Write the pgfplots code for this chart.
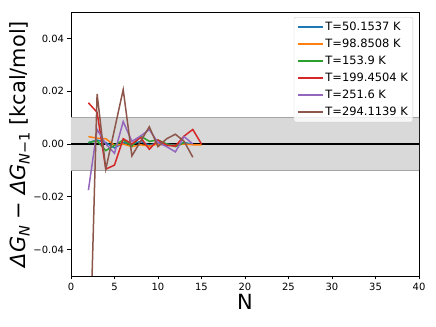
\documentclass[border=0pt]{standalone}
\usepackage{fontspec}
\setmainfont{DejaVu Sans}
\usepackage{pgfplots}
\pgfplotsset{compat=1.18}

\definecolor{c0}{HTML}{1F77B4}
\definecolor{c1}{HTML}{FF7F0E}
\definecolor{c2}{HTML}{2CA02C}
\definecolor{c3}{HTML}{D62728}
\definecolor{c4}{HTML}{9467BD}
\definecolor{c5}{HTML}{8C564B}
\definecolor{band}{HTML}{D9D9D9}

\newcommand{\dG}[1]{{\itshape ΔG}\raisebox{-0.35ex}{\fontsize{14.5}{15}\selectfont #1}}

\begin{document}
\begin{tikzpicture}
\useasboundingbox (-71bp,-51bp) rectangle (365bp,276bp);
\begin{axis}[
    scale only axis,
    width=348bp, height=264bp,
    xmin=0, xmax=40, ymin=-0.05, ymax=0.05,
    xtick={0,5,...,40},
    ytick={-0.04,-0.02,0,0.02,0.04},
    yticklabels={−0.04,−0.02,0.00,0.02,0.04},
    scaled y ticks=false,
    tick align=outside, tick pos=left,
    major tick length=3.5bp,
    tick style={line width=0.8bp, black},
    axis line style={line width=0.8bp},
    ticklabel style={font=\fontsize{10}{12}\selectfont},
    /pgf/number format/assume math mode=true,
    xlabel={N},
    ylabel={\dG{\itshape N} − \dG{{\itshape N}−1} [kcal/mol]},
    label style={font=\fontsize{21}{24}\selectfont},
    xlabel style={yshift=3bp},
    ylabel style={yshift=-3bp},
    legend style={at={(0.983,0.981)}, anchor=north east,
        font=\fontsize{11.5}{13}\selectfont, draw=black!20, rounded corners=2bp,
        fill=white, fill opacity=0.8, text opacity=1, draw opacity=1,
        row sep=3bp, inner xsep=3bp, inner ysep=3bp},
    legend cell align=left,
    legend image code/.code={\draw[#1, line width=1.5bp, opacity=1] (0bp,0bp) -- (25bp,0bp);},
    every axis plot/.append style={line width=1.5bp},
]
\addplot[draw=none, fill=band, forget plot] coordinates {(0,-0.01) (40,-0.01) (40,0.01) (0,0.01)} \closedcycle;
\addplot[black!35, line width=0.8bp, forget plot] coordinates {(0,0.01) (40,0.01)};
\addplot[black!35, line width=0.8bp, forget plot] coordinates {(0,-0.01) (40,-0.01)};
\addplot[black, forget plot] coordinates {(0,0) (40,0)};

\addplot[c0] coordinates {
(2,0.0005)(3,0.0015)(4,0.0005)(5,-0.0015)(6,0.0005)(7,0.0000)(8,0.0010)
(9,-0.0005)(10,0.0005)(11,0.0000)(12,-0.0005)(13,0.0005)(14,0.0000)};
\addlegendentry{T=50.1537 K}
\addplot[c1] coordinates {
(2,0.0028)(3,0.0022)(4,0.0020)(5,-0.0005)(6,0.0000)(7,-0.0010)(8,-0.0003)
(9,-0.0008)(10,0.0000)(11,-0.0005)(12,-0.0005)(13,0.0000)(14,-0.0003)(15,-0.0003)};
\addlegendentry{T=98.8508 K}
\addplot[c2] coordinates {
(2,0.0005)(3,0.0012)(4,-0.0025)(5,-0.0005)(6,0.0015)(7,-0.0008)(8,0.0030)
(9,0.0010)(10,0.0015)(11,0.0000)(12,-0.0010)(13,0.0005)};
\addlegendentry{T=153.9 K}
\addplot[c3] coordinates {
(2,0.0156)(3,0.0120)(4,-0.0095)(5,-0.0080)(6,0.0020)(7,0.0000)(8,0.0025)
(9,-0.0020)(10,0.0015)(11,-0.0005)(12,-0.0008)(13,0.0030)(14,0.0055)(15,0.0000)};
\addlegendentry{T=199.4504 K}
\addplot[c4] coordinates {
(2,-0.0175)(3,0.0055)(4,0.0000)(5,-0.0035)(6,0.0085)(7,0.0010)(8,0.0030)
(9,0.0055)(10,0.0005)(11,-0.0010)(12,-0.0030)(13,0.0028)(14,0.0000)};
\addlegendentry{T=251.6 K}
\addplot[c5] coordinates {
(2,-0.1000)(3,0.0190)(4,-0.0095)(5,0.0055)(6,0.0206)(7,-0.0045)(8,0.0010)
(9,0.0065)(10,-0.0010)(11,0.0020)(12,0.0037)(13,0.0010)(14,-0.0050)};
\addlegendentry{T=294.1139 K}
\end{axis}
\end{tikzpicture}
\end{document}
